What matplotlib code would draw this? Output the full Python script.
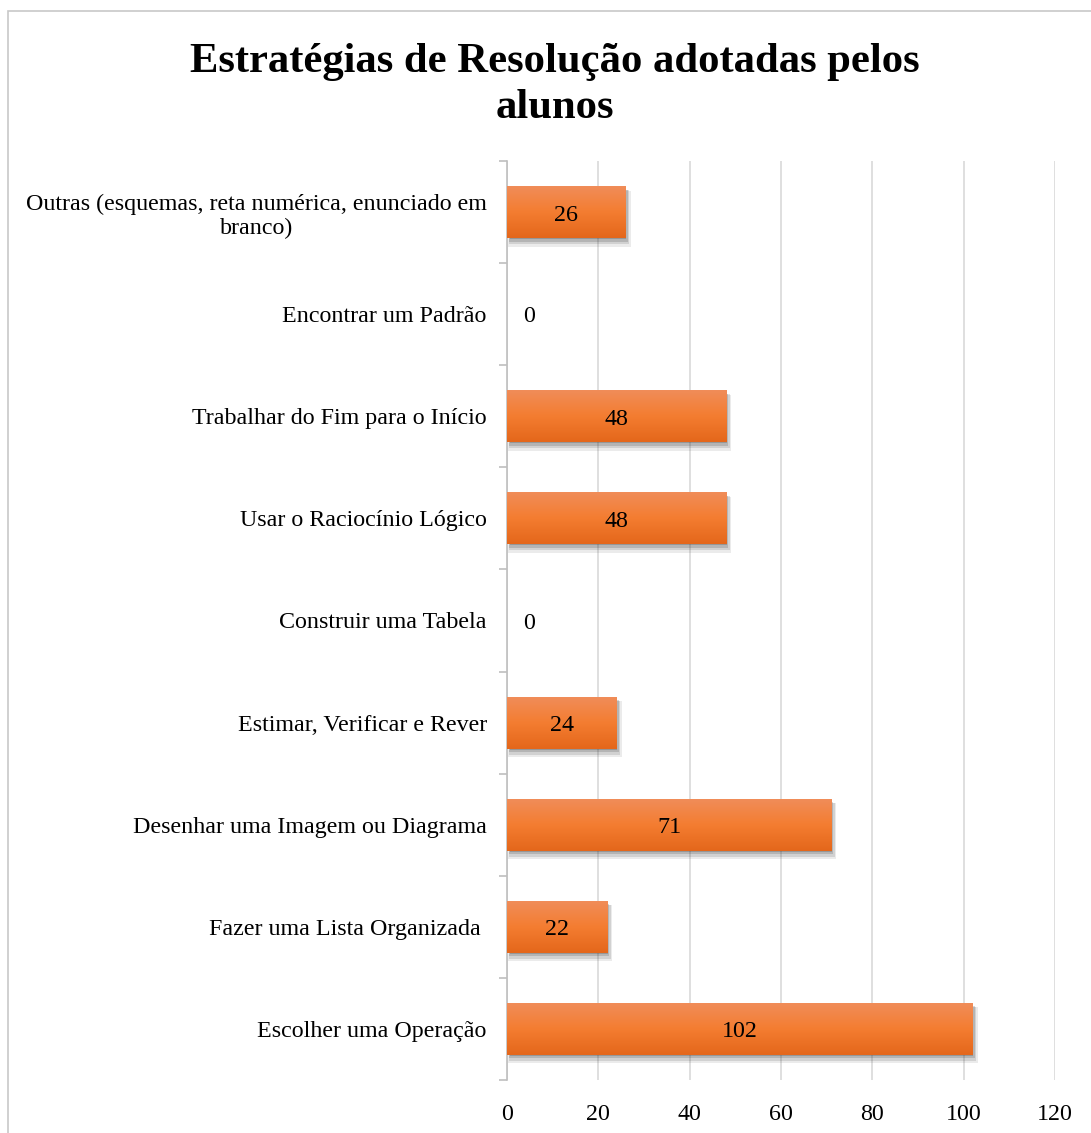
import numpy as np
import matplotlib
matplotlib.use("Agg")
import matplotlib.pyplot as plt
from matplotlib.patches import Rectangle
from matplotlib.colors import LinearSegmentedColormap
from matplotlib.transforms import ScaledTranslation

categories = [
    "Escolher uma Operação",
    "Fazer uma Lista Organizada ",
    "Desenhar uma Imagem ou Diagrama",
    "Estimar, Verificar e Rever",
    "Construir uma Tabela",
    "Usar o Raciocínio Lógico",
    "Trabalhar do Fim para o Início",
    "Encontrar um Padrão",
    "Outras (esquemas, reta numérica, enunciado em\nbranco)",
]
values = [102, 22, 71, 24, 0, 48, 48, 0, 26]
x_ticks = [0, 20, 40, 60, 80, 100, 120]
title = "Estratégias de Resolução adotadas pelos\nalunos"

plt.rcParams["font.family"] = ["Liberation Serif", "DejaVu Serif"]
FS = 17.3

W, H = 1091, 1133
fig = plt.figure(figsize=(W / 100, H / 100), dpi=100)

# light frame around the chart area
fig.patches.append(Rectangle((8 / W, -0.1), 1.2, 1.1 - 11 / H, transform=fig.transFigure,
                             fill=False, edgecolor="#C8C8C8", linewidth=1.2))

left, right, top, bottom = 507, 1055, 161, 1080
ax = fig.add_axes([left / W, 1 - bottom / H, (right - left) / W, (bottom - top) / H])

n = len(categories)
ax.set_xlim(0, 120)
ax.set_ylim(-0.5, n - 0.5)

grad = LinearSegmentedColormap.from_list(
    "bar", [(0.0, "#E4671B"), (0.5, "#F47D31"), (1.0, "#F08D5A")])
gimg = np.linspace(0, 1, 64).reshape(-1, 1)

# data units per pixel, for the soft drop shadow
dx = 120 / (right - left)
dy = n / (bottom - top)
down = ScaledTranslation(0, -3 / 100, fig.dpi_scale_trans)

bar_h = 0.51
for i, v in enumerate(values):
    if v > 0:
        y0 = i - bar_h / 2
        # soft shadow built from a few stacked translucent layers
        for ox, oy, grow, a in [(3.0, 6.5, 2.0, 0.10), (2.5, 5.0, 1.0, 0.15),
                                (2.0, 3.5, 0.0, 0.20), (1.5, 2.0, -1.0, 0.25)]:
            sh = Rectangle((dx * (ox - grow), y0 - dy * (oy + grow)),
                           v + 2 * dx * grow, bar_h + 2 * dy * grow,
                           facecolor="#404040", edgecolor="none", alpha=a, zorder=1.5)
            ax.add_patch(sh)
        rect = Rectangle((0, y0), v, bar_h, facecolor="#F07A2E", edgecolor="none", zorder=2)
        ax.add_patch(rect)
        im = ax.imshow(gimg, cmap=grad, aspect="auto", origin="lower",
                       extent=(0, v, y0, y0 + bar_h), zorder=3, interpolation="bilinear")
        im.set_clip_path(rect)
        ax.text(v / 2, i, str(v), ha="center", va="center", fontsize=FS, color="black",
                zorder=4, transform=ax.transData + down)
    else:
        ax.annotate(str(v), (0, i), xytext=(16, -2), textcoords="offset points",
                    ha="center", va="center", fontsize=FS, color="black")

ax.set_xticks(x_ticks)
ax.set_xticklabels([str(t) for t in x_ticks], fontsize=FS)
ax.grid(axis="x", color="#D9D9D9", linewidth=1.2, zorder=0)
ax.set_axisbelow(True)
ax.tick_params(axis="x", length=0, pad=17)

ax.set_yticks(range(n))
ax.set_yticklabels(categories, fontsize=FS, linespacing=1.2, multialignment="center")
ax.tick_params(axis="y", length=0, pad=14.5)
ax.set_yticks([k - 0.5 for k in range(n + 1)], minor=True)
ax.tick_params(axis="y", which="minor", length=6, color="#BFBFBF", width=1.2)

for s in ["top", "right", "bottom"]:
    ax.spines[s].set_visible(False)
ax.spines["left"].set_color("#BFBFBF")
ax.spines["left"].set_linewidth(1.2)

fig.text(555 / W, 1 - 85 / H, title, ha="center", va="center", fontsize=30.7,
         fontweight="bold", linespacing=1.3)

fig.savefig("out.png", dpi=100)
